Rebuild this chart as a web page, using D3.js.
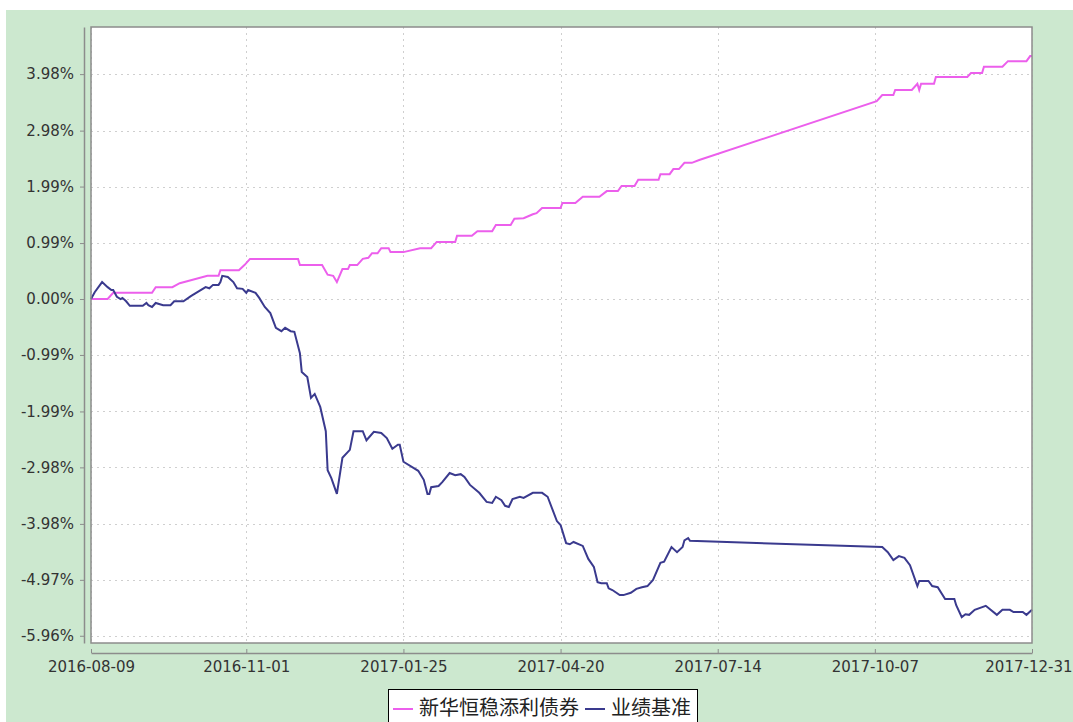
<!DOCTYPE html>
<html>
<head>
<meta charset="utf-8">
<script src="https://cdn.jsdelivr.net/npm/d3@7"></script>
<style>
  body { margin: 0; background: #fff; }
  .tick text { font-family: "DejaVu Sans", Verdana, sans-serif; font-size: 15px; fill: #333; }
</style>
</head>
<body>
<div id="chart"></div>
<script>
// fund returns (%)
const fundDates = ['2016-08-09','2016-08-18','2016-08-21','2016-09-11','2016-09-13','2016-09-22','2016-09-26','2016-10-11','2016-10-17','2016-10-18','2016-10-28','2016-10-31','2016-11-03','2016-11-29','2016-11-30','2016-12-12','2016-12-15','2016-12-18','2016-12-20','2016-12-23','2016-12-26','2016-12-27','2016-12-31','2017-01-03','2017-01-06','2017-01-08','2017-01-11','2017-01-13','2017-01-17','2017-01-18','2017-01-25','2017-02-03','2017-02-09','2017-02-12','2017-02-22','2017-02-23','2017-03-03','2017-03-06','2017-03-14','2017-03-16','2017-03-24','2017-03-26','2017-03-31','2017-04-05','2017-04-07','2017-04-10','2017-04-20','2017-04-21','2017-04-28','2017-05-02','2017-05-11','2017-05-15','2017-05-21','2017-05-23','2017-05-30','2017-06-01','2017-06-12','2017-06-13','2017-06-18','2017-06-20','2017-06-23','2017-06-26','2017-06-30','2017-07-04','2017-10-08','2017-10-11','2017-10-17','2017-10-18','2017-10-27','2017-10-30','2017-10-31','2017-11-01','2017-11-08','2017-11-09','2017-11-26','2017-11-28','2017-12-04','2017-12-05','2017-12-15','2017-12-18','2017-12-28','2017-12-30','2017-12-31'];
const fundValues = [0,0,0.11,0.11,0.21,0.21,0.28,0.41,0.41,0.51,0.51,0.60,0.71,0.71,0.60,0.60,0.43,0.41,0.30,0.53,0.53,0.60,0.60,0.71,0.73,0.81,0.81,0.90,0.90,0.83,0.83,0.90,0.90,1.01,1.01,1.12,1.12,1.20,1.20,1.31,1.31,1.42,1.43,1.50,1.52,1.61,1.61,1.70,1.70,1.81,1.81,1.91,1.91,2.00,2.00,2.11,2.11,2.21,2.21,2.30,2.30,2.41,2.41,2.46,3.50,3.61,3.61,3.70,3.70,3.81,3.70,3.81,3.81,3.93,3.93,4.00,4.00,4.11,4.11,4.21,4.21,4.30,4.30];

// benchmark returns (%)
const benchDates = ['2016-08-09','2016-08-11','2016-08-15','2016-08-18','2016-08-20','2016-08-21','2016-08-23','2016-08-25','2016-08-26','2016-08-28','2016-08-30','2016-09-06','2016-09-08','2016-09-09','2016-09-11','2016-09-13','2016-09-17','2016-09-21','2016-09-23','2016-09-28','2016-10-02','2016-10-10','2016-10-12','2016-10-14','2016-10-17','2016-10-18','2016-10-19','2016-10-22','2016-10-25','2016-10-27','2016-10-30','2016-11-01','2016-11-02','2016-11-06','2016-11-08','2016-11-11','2016-11-14','2016-11-17','2016-11-20','2016-11-22','2016-11-25','2016-11-27','2016-11-30','2016-12-01','2016-12-04','2016-12-06','2016-12-08','2016-12-11','2016-12-14','2016-12-15','2016-12-17','2016-12-20','2016-12-23','2016-12-27','2016-12-29','2017-01-03','2017-01-05','2017-01-09','2017-01-13','2017-01-16','2017-01-19','2017-01-22','2017-01-23','2017-01-25','2017-02-02','2017-02-05','2017-02-07','2017-02-08','2017-02-09','2017-02-13','2017-02-15','2017-02-19','2017-02-22','2017-02-25','2017-02-27','2017-03-02','2017-03-07','2017-03-11','2017-03-14','2017-03-16','2017-03-19','2017-03-21','2017-03-23','2017-03-25','2017-03-29','2017-03-31','2017-04-05','2017-04-10','2017-04-13','2017-04-18','2017-04-20','2017-04-23','2017-04-25','2017-04-27','2017-05-02','2017-05-05','2017-05-08','2017-05-10','2017-05-12','2017-05-15','2017-05-16','2017-05-18','2017-05-22','2017-05-24','2017-05-28','2017-05-31','2017-06-03','2017-06-06','2017-06-09','2017-06-13','2017-06-15','2017-06-19','2017-06-22','2017-06-25','2017-06-26','2017-06-28','2017-06-29','2017-10-11','2017-10-14','2017-10-17','2017-10-20','2017-10-23','2017-10-26','2017-10-30','2017-10-31','2017-11-05','2017-11-07','2017-11-10','2017-11-14','2017-11-19','2017-11-20','2017-11-23','2017-11-25','2017-11-27','2017-11-30','2017-12-06','2017-12-12','2017-12-15','2017-12-19','2017-12-21','2017-12-26','2017-12-28','2017-12-31'];
const benchValues = [0,0.12,0.30,0.21,0.16,0.16,0.04,0,0.02,-0.04,-0.12,-0.12,-0.07,-0.11,-0.14,-0.07,-0.11,-0.11,-0.04,-0.04,0.05,0.21,0.19,0.25,0.25,0.30,0.41,0.39,0.30,0.19,0.18,0.11,0.16,0.11,0.02,-0.14,-0.25,-0.51,-0.57,-0.51,-0.57,-0.58,-0.96,-1.29,-1.38,-1.75,-1.68,-1.91,-2.34,-3.03,-3.17,-3.45,-2.81,-2.67,-2.34,-2.34,-2.50,-2.35,-2.37,-2.46,-2.65,-2.58,-2.58,-2.88,-3.04,-3.20,-3.45,-3.45,-3.33,-3.31,-3.24,-3.08,-3.12,-3.10,-3.15,-3.29,-3.43,-3.59,-3.61,-3.50,-3.56,-3.66,-3.68,-3.54,-3.50,-3.52,-3.43,-3.43,-3.50,-3.93,-4.00,-4.32,-4.34,-4.30,-4.37,-4.60,-4.74,-5.01,-5.03,-5.03,-5.12,-5.15,-5.24,-5.24,-5.20,-5.13,-5.10,-5.08,-4.97,-4.67,-4.65,-4.39,-4.48,-4.39,-4.27,-4.23,-4.28,-4.39,-4.48,-4.62,-4.55,-4.58,-4.71,-5.08,-4.99,-4.99,-5.08,-5.10,-5.31,-5.31,-5.42,-5.63,-5.58,-5.59,-5.50,-5.43,-5.59,-5.50,-5.50,-5.54,-5.54,-5.59,-5.50];

const xTickLabels = ['2016-08-09','2016-11-01','2017-01-25','2017-04-20','2017-07-14','2017-10-07','2017-12-31'];
const yTickLabels = ['3.98%','2.98%','1.99%','0.99%','0.00%','-0.99%','-1.99%','-2.98%','-3.98%','-4.97%','-5.96%'];
const seriesNames = ['新华恒稳添利债券','业绩基准'];
const seriesColors = ['#ec5fec','#3a3a8e'];

const W = 1073, H = 722;
const plot = {left: 91, right: 1032, top: 27, bottom: 643};
const parse = d3.timeParse('%Y-%m-%d');

const svg = d3.select('#chart').append('svg').attr('width', W).attr('height', H);

svg.append('rect').attr('width', W).attr('height', H).attr('fill', '#fff');
svg.append('rect').attr('x', 6).attr('y', 10).attr('width', W - 6).attr('height', H - 10).attr('fill', '#cce8cf');
svg.append('rect')
  .attr('x', plot.left).attr('y', plot.top)
  .attr('width', plot.right - plot.left).attr('height', plot.bottom - plot.top)
  .attr('fill', '#fff');

const x = d3.scaleTime()
  .domain([parse(xTickLabels[0]), parse(xTickLabels[xTickLabels.length - 1])])
  .range([plot.left, plot.right]);
const y = d3.scaleLinear().domain([-6.088, 4.814]).range([plot.bottom, plot.top]);

const xTicks = xTickLabels.map(parse);
const yTicks = yTickLabels.map(s => parseFloat(s));

// grid
const grid = svg.append('g').attr('stroke', '#cfcfcf').attr('stroke-width', 1).attr('stroke-dasharray', '2,4');
grid.selectAll('.gy').data(yTicks).enter().append('line')
  .attr('x1', plot.left).attr('x2', plot.right)
  .attr('y1', d => Math.round(y(d)) + 0.5).attr('y2', d => Math.round(y(d)) + 0.5);
grid.selectAll('.gx').data(xTicks).enter().append('line')
  .attr('x1', d => Math.round(x(d)) + 0.5).attr('x2', d => Math.round(x(d)) + 0.5)
  .attr('y1', plot.top).attr('y2', plot.bottom);

// lines
const line = d3.line().x(d => x(d[0])).y(d => y(d[1]));
const fund = fundDates.map((d, i) => [parse(d), fundValues[i]]);
const bench = benchDates.map((d, i) => [parse(d), benchValues[i]]);

svg.append('path').datum(fund).attr('d', line)
  .attr('fill', 'none').attr('stroke', seriesColors[0]).attr('stroke-width', 2);
svg.append('path').datum(bench).attr('d', line)
  .attr('fill', 'none').attr('stroke', seriesColors[1]).attr('stroke-width', 2);

// plot border
svg.append('rect')
  .attr('x', plot.left).attr('y', plot.top)
  .attr('width', plot.right - plot.left).attr('height', plot.bottom - plot.top)
  .attr('fill', 'none').attr('stroke', '#8c8c8c').attr('stroke-width', 1.5);

// axes
const yAxis = d3.axisLeft(y).tickValues(yTicks).tickFormat((d, i) => yTickLabels[i])
  .tickSize(4).tickSizeOuter(0).tickPadding(6);
const gy = svg.append('g').attr('transform', 'translate(84,0)').call(yAxis);
gy.select('.domain').attr('stroke', '#8c8c8c').attr('stroke-width', 1.5);
gy.selectAll('.tick line').attr('stroke', '#8c8c8c');

const xAxis = d3.axisBottom(x).tickValues(xTicks).tickFormat((d, i) => xTickLabels[i])
  .tickSize(-4).tickSizeOuter(0).tickPadding(8);
const gx = svg.append('g').attr('transform', 'translate(0,653)').call(xAxis);
gx.select('.domain').attr('stroke', '#8c8c8c').attr('stroke-width', 1.5);
gx.selectAll('.tick line').attr('stroke', '#8c8c8c');
// last label would run past the right edge: pin it to the edge instead
gx.selectAll('.tick text').filter((d, i) => i === xTicks.length - 1)
  .attr('text-anchor', 'end').attr('x', W - 1 - plot.right);

// legend
const lg = svg.append('g');
const box = lg.append('rect').attr('x', 388.5).attr('y', 689.5).attr('height', 50)
  .attr('fill', '#fff').attr('stroke', '#000').attr('stroke-width', 1);
let cx = 393;
seriesNames.forEach((name, i) => {
  lg.append('line').attr('x1', cx).attr('x2', cx + 20).attr('y1', 709).attr('y2', 709)
    .attr('stroke', seriesColors[i]).attr('stroke-width', 2);
  const t = lg.append('text').attr('x', cx + 26).attr('y', 715)
    .style('font-family', '"Noto Sans CJK SC", sans-serif').style('font-size', '20px').attr('fill', '#222')
    .text(name);
  cx = cx + 26 + t.node().getComputedTextLength() + 6;
});
box.attr('width', cx - 388);
</script>
</body>
</html>
